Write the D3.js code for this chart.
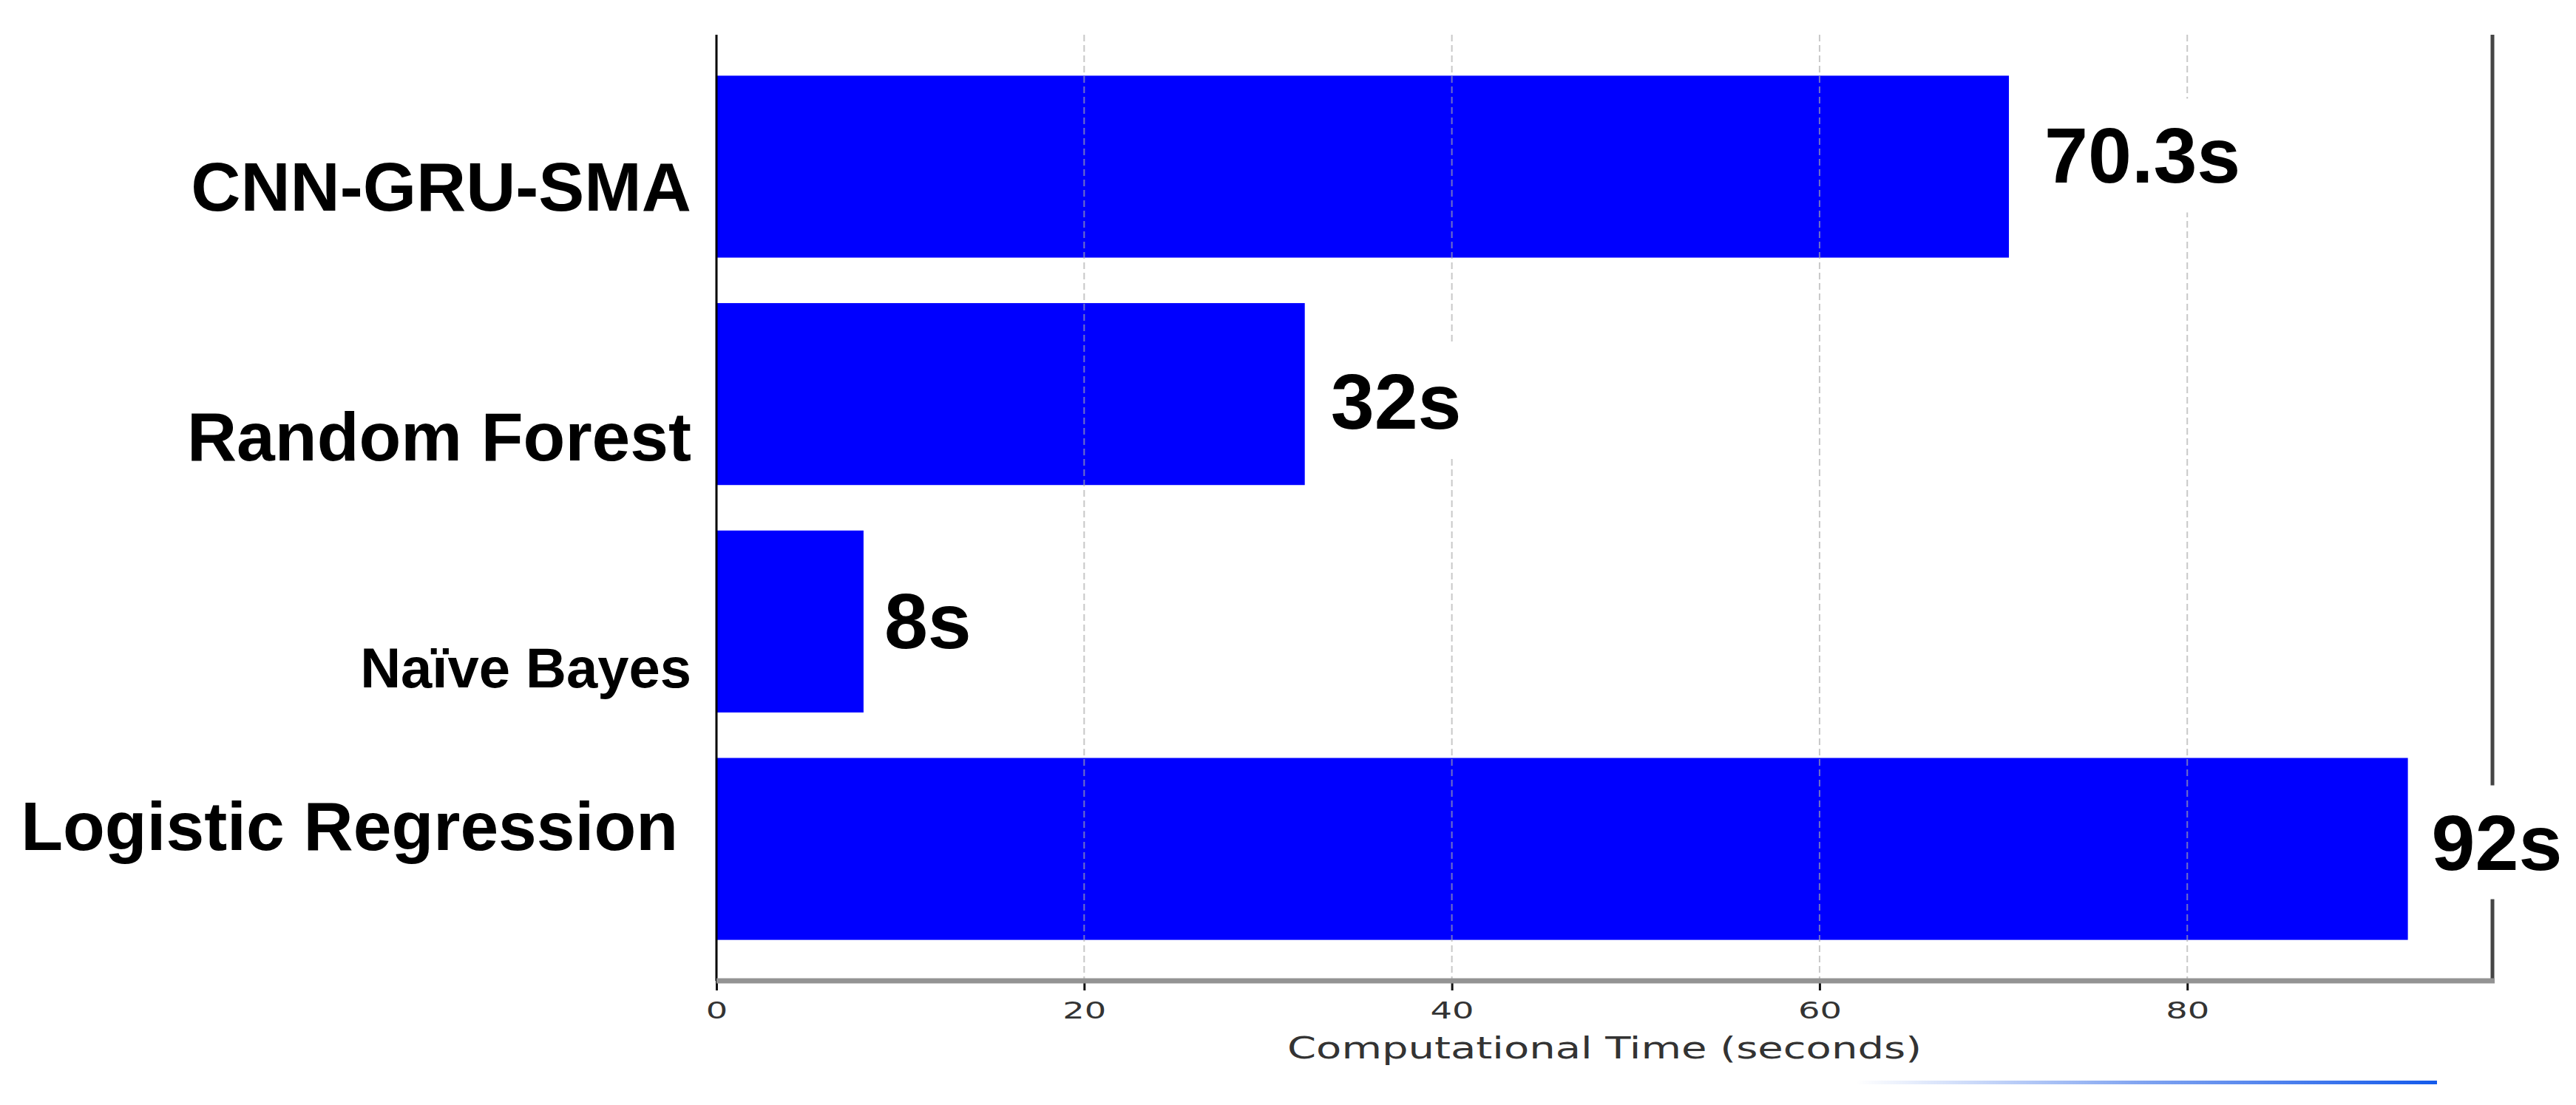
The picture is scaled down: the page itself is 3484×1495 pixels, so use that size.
<!DOCTYPE html>
<html><head><meta charset="utf-8">
<script src="https://cdn.jsdelivr.net/npm/d3@7/dist/d3.min.js"></script>
<style>html,body{margin:0;padding:0;background:#fff;overflow:hidden;}</style>
</head><body>
<svg id="chart" width="3484" height="1495"></svg>
<script>
// ---- data ----
const categories = ["CNN-GRU-SMA", "Random Forest", "Naïve Bayes", "Logistic Regression"];
const times = [70.3, 32, 8, 92];
const valueLabels = ["70.3s", "32s", "8s", "92s"];
const xTicks = [0, 20, 40, 60, 80];
const xMax = 96.6;
const xTitle = "Computational Time (seconds)";

// ---- layout / styles ----
const W = 3484, H = 1495;
const plot = {left: 969, right: 3371, top: 47, bottom: 1327};
const catStyle = {
  "CNN-GRU-SMA":         {size: 93, dx: -34, dy: 60},
  "Random Forest":       {size: 93, dx: -34, dy: 90},
  "Naïve Bayes":         {size: 76, dx: -34, dy: 89},
  "Logistic Regression": {size: 93, dx: -52, dy: 1}
};
const valStyle = [
  {dx: 48, dy: 22}, {dx: 35, dy: 47}, {dx: 28, dy: 36}, {dx: 32, dy: 28}
];

const svg = d3.select("#chart");
svg.append("rect").attr("width", W).attr("height", H).attr("fill", "#fff");

const x = d3.scaleLinear().domain([0, xMax]).range([plot.left, plot.right]);
const y = d3.scaleBand().domain(categories).range([plot.top, plot.bottom])
  .paddingInner(0.2).paddingOuter(0.18);

const rows = categories.map((c, i) => ({cat: c, v: times[i], label: valueLabels[i], i}));

// bars
svg.append("g").selectAll("rect").data(rows).join("rect")
  .attr("x", x(0)).attr("y", d => y(d.cat))
  .attr("width", d => x(d.v) - x(0)).attr("height", y.bandwidth())
  .attr("fill", "#0000ff");

// grid lines (drawn over bars, semi-transparent)
svg.append("g").selectAll("line").data(xTicks.filter(t => t > 0)).join("line")
  .attr("x1", d => x(d)).attr("x2", d => x(d))
  .attr("y1", plot.top).attr("y2", plot.bottom)
  .attr("stroke", "rgba(170,170,170,0.65)").attr("stroke-width", 2)
  .attr("stroke-dasharray", "9,5");

// spines
svg.append("line").attr("x1", plot.right).attr("x2", plot.right)
  .attr("y1", plot.top).attr("y2", plot.bottom + 3)
  .attr("stroke", "#454545").attr("stroke-width", 5);
svg.append("line").attr("x1", plot.left).attr("x2", plot.left)
  .attr("y1", plot.top).attr("y2", plot.bottom)
  .attr("stroke", "#000").attr("stroke-width", 3);

// x axis
const xAxis = d3.axisBottom(x).tickValues(xTicks).tickSize(13).tickPadding(8).tickFormat(d3.format("d"));
const gx = svg.append("g").attr("transform", `translate(0,${plot.bottom})`).call(xAxis);
gx.select(".domain").remove();
gx.selectAll(".tick line").attr("stroke", "#111").attr("stroke-width", 3);
gx.selectAll(".tick text")
  .attr("font-family", "'DejaVu Sans', sans-serif").attr("font-size", 32)
  .attr("fill", "#333").attr("dy", null).attr("y", 51)
  .attr("transform", "scale(1.45,1)");
svg.append("line").attr("x1", plot.left).attr("x2", plot.right + 3)
  .attr("y1", plot.bottom).attr("y2", plot.bottom)
  .attr("stroke", "#939393").attr("stroke-width", 7);

svg.append("text").attr("x", (plot.left + plot.right) / 2).attr("y", 1432)
  .attr("text-anchor", "middle").attr("font-family", "'DejaVu Sans', sans-serif")
  .attr("font-size", 40).attr("fill", "#333")
  .attr("textLength", 858).attr("lengthAdjust", "spacingAndGlyphs")
  .text(xTitle);

// category labels
svg.append("g").selectAll("text").data(rows).join("text")
  .attr("x", d => plot.left + catStyle[d.cat].dx)
  .attr("y", d => y(d.cat) + y.bandwidth() / 2 + catStyle[d.cat].dy)
  .attr("text-anchor", "end")
  .attr("font-family", "'Liberation Sans', Arial, sans-serif").attr("font-weight", "bold")
  .attr("font-size", d => catStyle[d.cat].size).attr("fill", "#000")
  .text(d => d.cat);

// value labels with white boxes
const vg = svg.append("g");
rows.forEach(d => {
  const g = vg.append("g");
  const bx = g.append("rect").attr("fill", "#fff");
  const t = g.append("text")
    .attr("x", x(d.v) + valStyle[d.i].dx)
    .attr("y", y(d.cat) + y.bandwidth() / 2 + valStyle[d.i].dy)
    .attr("font-family", "'Liberation Sans', Arial, sans-serif").attr("font-weight", "bold")
    .attr("font-size", 106).attr("fill", "#000")
    .text(d.label);
  const b = t.node().getBBox();
  bx.attr("x", b.x - 16).attr("y", b.y - 18).attr("width", b.width + 32).attr("height", b.height + 36);
});

// decorative blue line at bottom right
const defs = svg.append("defs");
const grad = defs.append("linearGradient").attr("id", "blueLine").attr("x1", "0").attr("x2", "1");
grad.append("stop").attr("offset", "0").attr("stop-color", "rgb(40,100,230)").attr("stop-opacity", 0);
grad.append("stop").attr("offset", "0.5").attr("stop-color", "rgb(40,100,230)").attr("stop-opacity", 0.6);
grad.append("stop").attr("offset", "1").attr("stop-color", "rgb(20,90,235)").attr("stop-opacity", 1);
svg.append("rect").attr("x", 2510).attr("y", 1462).attr("width", 786).attr("height", 5)
  .attr("fill", "url(#blueLine)");
</script>
</body></html>
